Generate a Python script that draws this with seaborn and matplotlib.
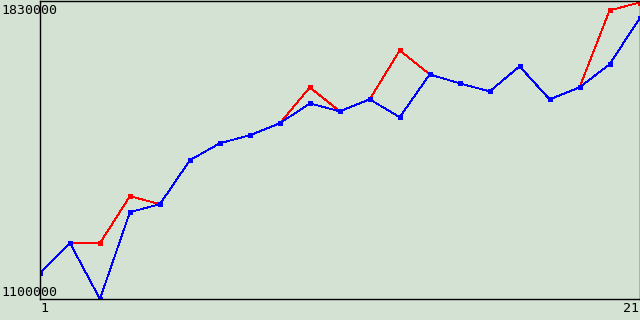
import matplotlib
matplotlib.use("Agg")
import matplotlib.pyplot as plt
import matplotlib.transforms as mtransforms
import seaborn as sns
import pandas as pd

x_vals = list(range(1, 22))
blue_vals = [1163500, 1236700, 1100000, 1312400, 1331900, 1439400, 1480900,
             1500400, 1529700, 1578500, 1559000, 1588300, 1544400, 1649300,
             1627400, 1607800, 1668900, 1588300, 1617600, 1673800, 1786000]
red_vals = [1163500, 1236700, 1236700, 1351500, 1331900, 1439400, 1480900,
            1500400, 1529700, 1617600, 1559000, 1588300, 1707900, 1649300,
            1627400, 1607800, 1668900, 1588300, 1617600, 1805600, 1825100]
y_ticks = [1100000, 1830000]
x_ticks = [1, 21]

bg = "#d4e2d4"
sns.set_style("white")
plt.rcParams['font.family'] = ['DejaVu Sans Mono']

df = pd.DataFrame({
    "x": x_vals * 2,
    "y": red_vals + blue_vals,
    "s": ["red"] * len(x_vals) + ["blue"] * len(x_vals),
})

fig = plt.figure(figsize=(6.4, 3.2), dpi=100, facecolor=bg)
ax = fig.add_axes([40 / 640, 21 / 320, 599.5 / 640, 298.5 / 320])
ax.set_facecolor(bg)

sns.lineplot(data=df, x="x", y="y", hue="s", hue_order=["red", "blue"],
             palette={"red": "#ff0000", "blue": "#0000ff"},
             style="s", markers={"red": "s", "blue": "s"}, dashes=False,
             markersize=3.6, markeredgewidth=0, linewidth=0.6,
             legend=False, ax=ax)
for ln in ax.lines:
    ln.set_antialiased(False)

ax.set_xlim(x_ticks[0], x_ticks[1])
ax.set_ylim(y_ticks[0], y_ticks[1])
ax.set_xlabel("")
ax.set_ylabel("")
for sp in ax.spines.values():
    sp.set_visible(True)
    sp.set_color("black")
    sp.set_linewidth(1.0)

ax.set_yticks(y_ticks)
ax.set_yticklabels([f"{v}" for v in y_ticks], fontsize=9.5)
ax.set_xticks(x_ticks)
ax.set_xticklabels([f"{v}" for v in x_ticks], fontsize=9.5)
ax.tick_params(length=0, pad=2)
ylabs = ax.get_yticklabels()
ylabs[0].set_va("bottom")
ylabs[1].set_va("top")
ylabs[1].set_transform(ylabs[1].get_transform() +
                       mtransforms.ScaledTranslation(0, -4 / 100, fig.dpi_scale_trans))
for t in ylabs:
    t.set_ha("left")
    t.set_x(-36 / 599.5)
xlabs = ax.get_xticklabels()
xlabs[0].set_ha("left")
xlabs[1].set_ha("right")
for t in ax.get_xticklabels() + ax.get_yticklabels():
    t.set_color("black")

fig.savefig("out.png", dpi=100, facecolor=bg)
